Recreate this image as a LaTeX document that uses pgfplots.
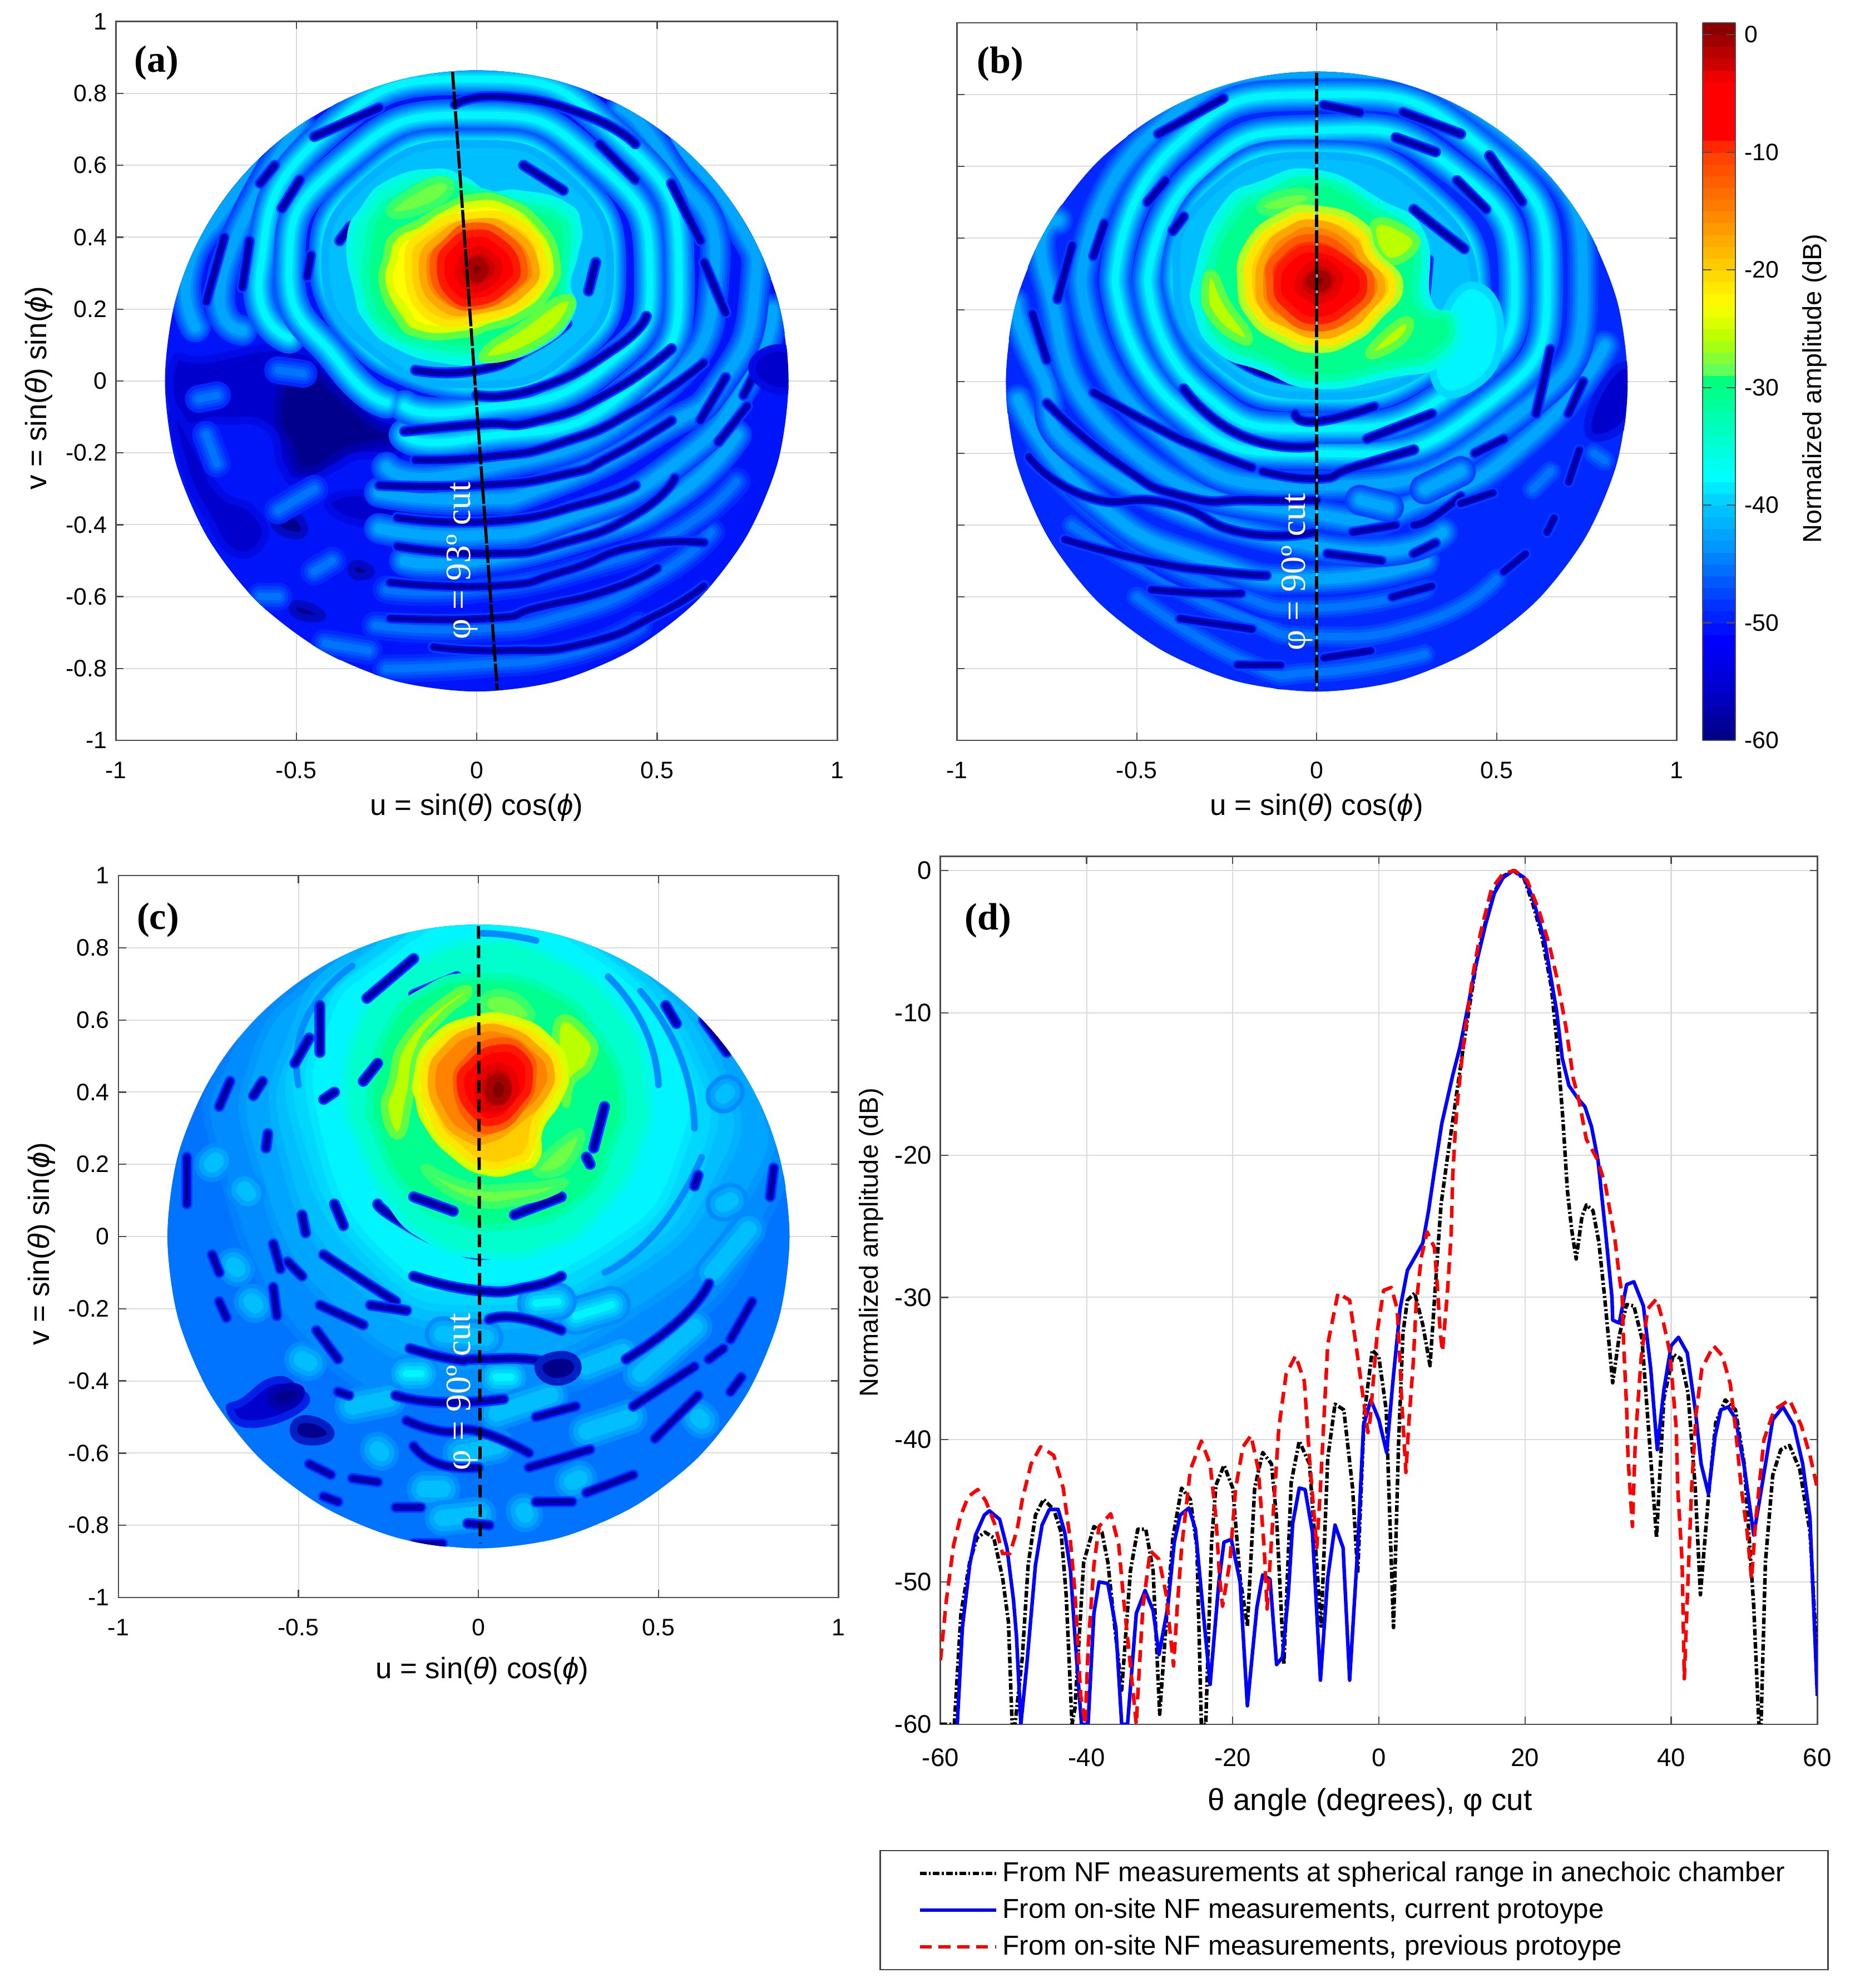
\documentclass[border=0pt]{standalone}
\usepackage{fontspec}
\setmainfont{Liberation Sans}
\newfontfamily\serif{Liberation Serif}
\usepackage{pgfplots}
\usepackage{pgfplotstable}
\pgfplotsset{compat=1.18}

% jet-like levels
\definecolor{c60}{RGB}{0,0,140}
\definecolor{c58}{RGB}{0,0,175}
\definecolor{c56}{RGB}{0,0,205}
\definecolor{c54}{RGB}{0,0,230}
\definecolor{c52}{RGB}{0,20,250}
\definecolor{c50}{RGB}{0,40,255}
\definecolor{c48}{RGB}{0,65,255}
\definecolor{c47}{RGB}{0,90,255}
\definecolor{c45}{RGB}{0,115,255}
\definecolor{c44}{RGB}{0,140,255}
\definecolor{c42}{RGB}{0,165,255}
\definecolor{c41}{RGB}{0,190,255}
\definecolor{c40}{RGB}{0,215,255}
\definecolor{c37}{RGB}{0,245,255}
\definecolor{c34}{RGB}{0,255,205}
\definecolor{c30}{RGB}{0,255,140}
\definecolor{c27}{RGB}{110,255,70}
\definecolor{c25}{RGB}{185,255,0}
\definecolor{c23}{RGB}{255,255,0}
\definecolor{c20}{RGB}{255,205,0}
\definecolor{c15}{RGB}{255,130,0}
\definecolor{c10}{RGB}{255,50,0}
\definecolor{c6}{RGB}{255,0,0}
\definecolor{c3}{RGB}{200,0,0}
\definecolor{c1}{RGB}{130,0,0}

\pgfplotstableread{
x y
0.864 0
0.835 0.224
0.748 0.432
0.611 0.611
0.432 0.748
0.224 0.835
0 0.864
-0.224 0.835
-0.432 0.748
-0.611 0.611
-0.748 0.432
-0.835 0.224
-0.864 0
-0.835 -0.224
-0.748 -0.432
-0.611 -0.611
-0.432 -0.748
-0.224 -0.835
0 -0.864
0.224 -0.835
0.432 -0.748
0.611 -0.611
0.748 -0.432
0.835 -0.224
}\disc

\pgfplotsset{
  lnb/.style={no markers,smooth,/tikz/tension=1,forget plot,line cap=round,line join=round},
  tick label style={font=\fontsize{9.4}{11}\selectfont,/pgf/number format/assume math mode=true},
  colormap={refjet}{rgb255(0mm)=(0,0,128); rgb255(4mm)=(0,0,200); rgb255(8.5mm)=(0,0,255);
    rgb255(12mm)=(0,60,255); rgb255(16.5mm)=(0,150,255); rgb255(20mm)=(0,200,255);
    rgb255(22.5mm)=(0,255,255); rgb255(31.4mm)=(0,255,110); rgb255(31.5mm)=(100,255,90);
    rgb255(34mm)=(180,255,0); rgb255(37mm)=(255,255,0); rgb255(40mm)=(255,210,0);
    rgb255(45mm)=(255,130,0); rgb255(50mm)=(255,60,0); rgb255(51.5mm)=(255,0,0);
    rgb255(56mm)=(255,0,0); rgb255(57.5mm)=(205,0,0); rgb255(61mm)=(128,0,0)},
  pan/.style={
    scale only axis,xmin=-1,xmax=1,ymin=-1,ymax=1,
    xtick={-1,-0.5,0,0.5,1},
    ytick={-1,-0.8,-0.6,-0.4,-0.2,0,0.2,0.4,0.6,0.8,1},
    xticklabel style={yshift=-5pt},
    grid=major,grid style={line width=0.45pt,black!14},
    tick align=inside,major tick length=3pt,
    axis line style={line width=0.6pt,black!70},
    tick style={line width=0.5pt,black!70},
    every axis x label/.style={at={(0.5,-0.0935)},anchor=center,font=\fontsize{11.6}{14}\selectfont},
    every axis y label/.style={at={(-0.107,0.49)},rotate=90,anchor=center,font=\fontsize{11.6}{14}\selectfont},
    xlabel={u = sin(\textit{θ}) cos(\textit{ϕ})},
    ylabel={v = sin(\textit{θ}) sin(\textit{ϕ})},
  },
}

% filled level with a softened rim, then the bands of the side lobes, then the nulls
\newcommand\lev[3]{\addplot[/tikz/smooth cycle,/tikz/tension=0.9,no markers,forget plot,draw=#1!50!#2,line width=3pt,fill=#1] coordinates {#3};}
\newcommand\bandC[1]{%
  \addplot[lnb,draw=c47,line width=12.5pt] coordinates {#1};
  \addplot[lnb,draw=c45,line width=10.5pt] coordinates {#1};
  \addplot[lnb,draw=c44,line width=9pt] coordinates {#1};
  \addplot[lnb,draw=c42,line width=7.5pt] coordinates {#1};
  \addplot[lnb,draw=c41,line width=6pt] coordinates {#1};
  \addplot[lnb,draw=c40,line width=4.5pt] coordinates {#1};
  \addplot[lnb,draw=c37,line width=2.8pt] coordinates {#1};}
\newcommand\bandM[1]{%
  \addplot[lnb,draw=c48,line width=12pt] coordinates {#1};
  \addplot[lnb,draw=c47,line width=10pt] coordinates {#1};
  \addplot[lnb,draw=c45,line width=8pt] coordinates {#1};
  \addplot[lnb,draw=c44,line width=6pt] coordinates {#1};
  \addplot[lnb,draw=c42,line width=4pt] coordinates {#1};}
\newcommand\bandL[1]{%
  \addplot[lnb,draw=c50,line width=11pt] coordinates {#1};
  \addplot[lnb,draw=c48,line width=8pt] coordinates {#1};
  \addplot[lnb,draw=c47,line width=5.5pt] coordinates {#1};
  \addplot[lnb,draw=c45,line width=3pt] coordinates {#1};}
% lobes on the brighter ground of (c)
\newcommand\lobeM[1]{%
  \addplot[lnb,draw=c44,line width=14pt] coordinates {#1};
  \addplot[lnb,draw=c42,line width=10.5pt] coordinates {#1};
  \addplot[lnb,draw=c41,line width=6.5pt] coordinates {#1};}
\newcommand\lobeB[1]{%
  \addplot[lnb,draw=c44,line width=15pt] coordinates {#1};
  \addplot[lnb,draw=c42,line width=12pt] coordinates {#1};
  \addplot[lnb,draw=c41,line width=9pt] coordinates {#1};
  \addplot[lnb,draw=c40,line width=6pt] coordinates {#1};
  \addplot[lnb,draw=c37,line width=3pt] coordinates {#1};}
\newcommand\thinl[1]{\addplot[lnb,draw=c44,line width=2.6pt] coordinates {#1};}
\newcommand\dk[1]{%
  \addplot[lnb,draw=c48,line width=4.4pt] coordinates {#1};
  \addplot[lnb,draw=c54,line width=3pt] coordinates {#1};
  \addplot[lnb,draw=c56,line width=2.2pt] coordinates {#1};
  \addplot[lnb,draw=c60,line width=1.1pt] coordinates {#1};}
\newcommand\discclip{\clip (axis cs:0,0) circle [radius=0.864];}

\begin{document}
\begin{tikzpicture}
\path[use as bounding box] (0pt,0pt) rectangle (731.5pt,784pt);

% ---------- (a)
\begin{axis}[pan,at={(45.7pt,492pt)},anchor=south west,width=284.6pt,height=283.5pt]
\addplot[/tikz/smooth cycle,no markers,forget plot,draw=none,fill=c52] table {\disc};
\begin{scope}
\discclip
\lev{c56}{c52}{(-0.84,0.05)(-0.75,0.06)(-0.52,0.09)(-0.39,0.01)(-0.30,-0.08)(-0.21,-0.13)(-0.21,-0.20)(-0.33,-0.21)(-0.39,-0.24)(-0.49,-0.28)(-0.54,-0.24)(-0.58,-0.13)(-0.71,-0.11)(-0.82,-0.11)}
\lev{c60}{c56}{(-0.5,0.05)(-0.4,-0.02)(-0.3,-0.11)(-0.23,-0.16)(-0.35,-0.19)(-0.47,-0.25)(-0.52,-0.18)(-0.55,-0.08)}
\lev{c56}{c52}{(-0.84,-0.08)(-0.77,-0.2)(-0.71,-0.31)(-0.62,-0.36)(-0.59,-0.44)(-0.67,-0.48)(-0.75,-0.37)(-0.81,-0.24)}
\lev{c56}{c52}{(-0.39,-0.32)(-0.27,-0.32)(-0.2,-0.37)(-0.27,-0.40)(-0.39,-0.37)}
\lev{c60}{c52}{(-0.53,-0.36)(-0.48,-0.40)(-0.5,-0.43)(-0.56,-0.40)}
\lev{c60}{c52}{(-0.34,-0.51)(-0.3,-0.52)(-0.3,-0.54)(-0.34,-0.54)}
\lev{c60}{c52}{(-0.5,-0.62)(-0.44,-0.64)(-0.44,-0.66)(-0.5,-0.65)}
\bandL{(-0.77,-0.05)(-0.72,-0.04)}
\bandL{(-0.75,-0.15)(-0.72,-0.23)}
\bandL{(-0.45,-0.30)(-0.55,-0.36)}
\bandL{(-0.55,0.03)(-0.48,0.02)}
\bandL{(-0.6,-0.6)(-0.55,-0.6)}
\bandL{(-0.45,-0.53)(-0.4,-0.5)}
\bandL{(-0.42,-0.73)(-0.3,-0.75)}
% rings, outermost first
\bandL{(-0.25,-0.80)(-0.01,-0.79)(0.25,-0.76)(0.45,-0.68)}
\bandL{(-0.28,-0.68)(-0.01,-0.69)(0.25,-0.65)(0.5,-0.54)(0.65,-0.42)}
\bandL{(-0.25,-0.58)(-0.01,-0.58)(0.3,-0.52)(0.55,-0.42)(0.72,-0.28)}
\bandM{(-0.2,-0.5)(-0.01,-0.50)(0.3,-0.43)(0.55,-0.32)(0.72,-0.15)}
\bandM{(-0.27,-0.41)(-0.01,-0.43)(0.25,-0.38)(0.55,-0.23)(0.75,0.0)(0.82,0.2)}
\bandM{(-0.78,0.15)(-0.80,0.31)(-0.70,0.48)(-0.58,0.62)}
\bandM{(0.55,0.66)(0.72,0.45)(0.77,0.25)(0.68,0.0)(0.5,-0.14)(0.2,-0.29)(-0.01,-0.33)(-0.27,-0.31)}
\bandM{(-0.65,0.14)(-0.70,0.31)(-0.49,0.72)}
\bandM{(0.40,0.76)(0.52,0.62)(0.66,0.31)(0.47,-0.06)(-0.01,-0.25)(-0.25,-0.24)}
\bandC{(-0.52,0.12)(-0.60,0.31)(-0.43,0.68)(-0.01,0.84)(0.39,0.68)(0.56,0.31)(0.40,-0.04)(-0.01,-0.16)(-0.2,-0.15)}
\bandC{(-0.25,-0.06)(-0.38,0.05)(-0.52,0.31)(-0.37,0.61)(-0.01,0.74)(0.33,0.61)(0.48,0.31)(0.34,0.03)(-0.01,-0.08)(-0.2,-0.07)}
\bandC{(-0.27,0.07)(-0.42,0.31)(-0.29,0.57)(-0.01,0.66)(0.25,0.57)(0.37,0.31)(0.25,0.07)(-0.01,-0.01)(-0.27,0.07)}
\lev{c41}{c42}{(-0.27,0.07)(-0.42,0.31)(-0.29,0.57)(-0.01,0.66)(0.25,0.57)(0.37,0.31)(0.25,0.07)(-0.01,-0.01)}
% nulls
\dk{(-0.06,0.77)(0.08,0.79)(0.30,0.74)(0.44,0.66)}
\dk{(0.13,0.6)(0.24,0.53)}
\dk{(0.34,0.66)(0.44,0.56)}
\dk{(0.54,0.55)(0.62,0.39)}
\dk{(0.63,0.33)(0.69,0.19)}
\dk{(-0.17,0.03)(0,0.03)(0.15,0.09)(0.25,0.16)}
\dk{(0,-0.04)(0.17,-0.02)(0.38,0.09)(0.47,0.18)}
\dk{(-0.2,-0.14)(0.01,-0.12)(0.17,-0.11)(0.37,-0.03)(0.54,0.09)}
\dk{(-0.17,-0.22)(0.04,-0.21)(0.24,-0.17)(0.44,-0.08)(0.63,0.05)}
\dk{(-0.27,-0.29)(0.01,-0.29)(0.24,-0.26)(0.37,-0.21)(0.54,-0.11)}
\dk{(-0.22,-0.38)(0.05,-0.39)(0.3,-0.34)(0.44,-0.29)}
\dk{(-0.22,-0.46)(0.04,-0.48)(0.24,-0.45)(0.44,-0.37)(0.55,-0.27)}
\dk{(-0.24,-0.56)(0.05,-0.57)(0.24,-0.53)(0.44,-0.46)(0.63,-0.45)}
\dk{(-0.24,-0.66)(0.04,-0.66)(0.17,-0.63)(0.37,-0.58)(0.5,-0.52)}
\dk{(-0.12,-0.74)(0.08,-0.75)(0.3,-0.73)(0.5,-0.65)(0.63,-0.57)}
\dk{(0.62,-0.11)(0.69,0.01)}
\dk{(0.74,-0.04)(0.78,0.04)}
\dk{(0.67,-0.17)(0.75,-0.07)}
\lev{c56}{c52}{(0.78,0.07)(0.87,0.08)(0.87,-0.02)(0.78,0.0)}
\dk{(-0.60,0.55)(-0.56,0.6)}
\dk{(-0.7,0.4)(-0.75,0.22)}
\dk{(-0.65,0.26)(-0.63,0.39)}
\dk{(-0.54,0.48)(-0.49,0.56)}
\dk{(-0.46,0.35)(-0.47,0.29)}
\dk{(-0.38,0.39)(-0.35,0.43)}
\dk{(-0.45,0.68)(-0.27,0.76)}
\dk{(0.33,0.33)(0.31,0.25)}
% main lobe
\lev{c34}{c37}{(-0.35,0.39)(-0.31,0.48)(-0.24,0.55)(-0.12,0.58)(-0.04,0.56)(0.03,0.52)(0.12,0.52)(0.24,0.49)(0.28,0.43)(0.27,0.35)(0.25,0.27)(0.26,0.19)(0.17,0.10)(0.03,0.06)(-0.09,0.06)(-0.22,0.10)(-0.30,0.17)(-0.33,0.25)}
\lev{c30}{c34}{(-0.3,0.38)(-0.27,0.47)(-0.2,0.52)(-0.12,0.55)(0,0.53)(0.12,0.49)(0.22,0.46)(0.25,0.4)(0.24,0.3)(0.22,0.2)(0.12,0.11)(0,0.09)(-0.12,0.1)(-0.24,0.14)(-0.3,0.24)}
\lev{c27}{c30}{(-0.24,0.47)(-0.19,0.52)(-0.1,0.56)(-0.08,0.52)(-0.17,0.47)}
\lev{c25}{c30}{(0.03,0.09)(0.12,0.15)(0.24,0.23)(0.25,0.18)(0.16,0.1)(0.04,0.06)}
\lev{c25}{c30}{(-0.25,0.34)(-0.23,0.40)(-0.16,0.44)(-0.09,0.48)(-0.01,0.51)(0.08,0.5)(0.17,0.44)(0.22,0.34)(0.2,0.25)(0.12,0.18)(0.03,0.15)(-0.04,0.13)(-0.16,0.13)(-0.22,0.18)(-0.26,0.27)}
\lev{c23}{c25}{(-0.23,0.34)(-0.21,0.39)(-0.15,0.42)(-0.09,0.46)(-0.01,0.49)(0.08,0.48)(0.15,0.42)(0.2,0.34)(0.18,0.26)(0.11,0.2)(0.03,0.17)(-0.04,0.15)(-0.15,0.15)(-0.2,0.2)(-0.24,0.27)}
\lev{c20}{c23}{(-0.19,0.33)(-0.13,0.42)(-0.01,0.46)(0.11,0.44)(0.18,0.34)(0.15,0.24)(0.03,0.18)(-0.13,0.18)}
\lev{c15}{c20}{(-0.15,0.32)(-0.10,0.40)(-0.01,0.44)(0.09,0.42)(0.16,0.33)(0.13,0.25)(0.02,0.20)(-0.10,0.21)}
\lev{c10}{c15}{(-0.12,0.32)(-0.08,0.39)(-0.01,0.43)(0.08,0.40)(0.13,0.32)(0.10,0.26)(0.01,0.21)(-0.08,0.23)}
\lev{c6}{c10}{(-0.10,0.32)(-0.07,0.38)(-0.01,0.41)(0.06,0.39)(0.11,0.32)(0.08,0.26)(0.0,0.22)(-0.07,0.24)}
\lev{c3}{c6}{(-0.05,0.31)(-0.01,0.36)(0.04,0.35)(0.06,0.31)(0.03,0.27)(-0.02,0.26)}
\lev{c1}{c3}{(-0.02,0.31)(0,0.335)(0.02,0.32)(0.02,0.30)(0,0.285)}
\end{scope}
\addplot[no markers,forget plot,black,line width=1.2pt,dash pattern=on 7pt off 0.8pt] coordinates {(-0.067,0.86)(0.057,-0.86)};
\node[rotate=90,white,font=\serif\fontsize{14}{16}\selectfont] at (axis cs:-0.04,-0.5) {φ = 93º cut};
\node[font=\serif\bfseries\fontsize{15}{17}\selectfont] at (axis cs:-0.887,0.885) {(a)};
\end{axis}

% ---------- (b)
\begin{axis}[pan,at={(377.4pt,492pt)},anchor=south west,width=283.8pt,height=283pt,
  yticklabels={},ylabel={},
  point meta min=-60,point meta max=1,colormap name=refjet,
  colorbar,colorbar sampled,
  colorbar style={samples=62,at={(1.036,0)},anchor=south west,width=13pt,
    ytick={0,-10,-20,-30,-40,-50,-60},yticklabel pos=right,
    tick align=inside,major tick length=3.5pt,
    axis line style={line width=0.4pt,black!70},
    every axis y label/.style={at={(3.4,0.49)},rotate=90,anchor=center,font=\fontsize{10.3}{12}\selectfont},
    ylabel={Normalized amplitude (dB)}}]
\addplot[/tikz/smooth cycle,no markers,forget plot,draw=none,fill=c50] table {\disc};
\begin{scope}
\discclip
\bandL{(-0.5,-0.6)(-0.2,-0.78)(0,-0.81)(0.3,-0.76)}
\bandL{(-0.68,-0.4)(-0.45,-0.54)(-0.2,-0.66)(0,-0.71)(0.3,-0.67)(0.5,-0.55)}
\bandL{(-0.78,-0.2)(-0.55,-0.42)(-0.25,-0.58)(0,-0.63)(0.3,-0.58)}
\bandM{(-0.83,-0.05)(-0.62,-0.33)(-0.3,-0.5)(0,-0.55)(0.3,-0.5)}
\bandM{(-0.84,0.22)(-0.77,0.03)(-0.6,-0.24)(0,-0.46)(0.35,-0.42)}
\bandM{(-0.72,0.45)(-0.75,0.28)(-0.53,-0.18)(0,-0.37)(0.3,-0.33)(0.6,-0.15)(0.8,0.1)}
\bandM{(-0.655,0.28)(-0.46,0.69)(0,0.86)(0.52,0.70)(0.74,0.28)(0.52,-0.12)(0,-0.29)(-0.46,-0.12)(-0.655,0.28)}
\bandM{(0.12,-0.33)(0.2,-0.35)}
\bandM{(0.3,-0.3)(0.4,-0.25)}
\bandL{(0.77,-0.2)(0.8,-0.22)}
\bandL{(0.6,-0.3)(0.65,-0.25)}
\bandC{(-0.56,0.28)(-0.40,0.65)(0,0.80)(0.45,0.66)(0.64,0.28)(0.45,-0.08)(0,-0.20)(-0.39,-0.07)(-0.56,0.28)}
\bandC{(-0.47,0.28)(-0.33,0.58)(0,0.70)(0.37,0.60)(0.55,0.28)(0.38,-0.02)(0,-0.13)(-0.33,-0.02)(-0.47,0.28)}
\bandC{(-0.39,0.28)(-0.29,0.53)(0,0.63)(0.30,0.52)(0.44,0.25)(0.31,0.04)(0,-0.04)(-0.27,0.05)(-0.39,0.28)}
\lev{c41}{c42}{(-0.39,0.28)(-0.29,0.53)(0,0.63)(0.30,0.52)(0.44,0.25)(0.31,0.04)(0,-0.04)(-0.27,0.05)}
\lev{c37}{c41}{(0.36,0.2)(0.46,0.26)(0.51,0.12)(0.44,-0.01)(0.33,0.0)}
\dk{(0.02,0.77)(0.12,0.75)}
\dk{(0.24,0.75)(0.40,0.69)}
\dk{(0.22,0.68)(0.33,0.64)}
\dk{(0.48,0.63)(0.57,0.5)}
\dk{(0.39,0.56)(0.47,0.48)}
\dk{(0.27,0.48)(0.32,0.44)(0.41,0.37)}
\dk{(0.31,0.34)(0.3,0.23)}
\dk{(-0.44,0.69)(-0.26,0.79)}
\dk{(-0.47,0.5)(-0.42,0.56)}
\dk{(-0.40,0.42)(-0.37,0.46)}
\dk{(-0.31,0.35)(-0.28,0.42)}
\dk{(-0.62,0.35)(-0.59,0.44)}
\dk{(-0.72,0.23)(-0.68,0.38)}
\dk{(-0.79,0.19)(-0.75,0.06)}
\dk{(-0.26,0.09)(-0.14,0.02)(0,0)}
\dk{(-0.06,-0.09)(0,-0.11)(0.16,-0.07)}
\dk{(-0.37,-0.02)(-0.21,-0.15)(-0.01,-0.18)}
\dk{(0.14,-0.16)(0.32,-0.09)}
\dk{(-0.62,-0.03)(-0.44,-0.13)(-0.31,-0.19)(-0.18,-0.24)}
\dk{(-0.15,-0.25)(0,-0.27)(0.10,-0.24)(0.27,-0.19)}
\dk{(-0.75,-0.06)(-0.55,-0.23)(-0.37,-0.32)(-0.18,-0.33)(0,-0.33)}
\dk{(-0.8,-0.21)(-0.64,-0.32)(-0.41,-0.34)(-0.21,-0.42)(-0.01,-0.42)}
\dk{(-0.7,-0.44)(-0.47,-0.5)(-0.27,-0.53)(-0.14,-0.54)}
\dk{(-0.46,-0.58)(-0.31,-0.59)(-0.21,-0.59)}
\dk{(-0.38,-0.66)(-0.18,-0.69)}
\dk{(-0.22,-0.79)(-0.1,-0.79)}
\dk{(0.02,-0.77)(0.15,-0.75)}
\dk{(0.03,-0.48)(0.18,-0.5)}
\dk{(0.1,-0.42)(0.22,-0.40)}
\dk{(0.27,-0.48)(0.33,-0.45)}
\dk{(0.27,-0.4)(0.32,-0.38)(0.4,-0.32)}
\dk{(0.21,-0.6)(0.32,-0.57)}
\dk{(0.44,-0.2)(0.52,-0.16)}
\dk{(0.4,-0.34)(0.49,-0.31)}
\dk{(0.61,-0.09)(0.65,0.09)}
\dk{(0.7,-0.09)(0.74,0)}
\lev{c56}{c50}{(0.87,0.04)(0.87,-0.1)(0.76,-0.15)(0.79,-0.02)}
\dk{(0.66,-0.38)(0.64,-0.42)}
\dk{(0.52,-0.53)(0.58,-0.48)}
\dk{(0.7,-0.28)(0.73,-0.19)}
% main lobe
\lev{c34}{c37}{(-0.33,0.19)(-0.33,0.30)(-0.26,0.48)(-0.15,0.55)(0,0.58)(0.17,0.5)(0.29,0.41)(0.31,0.22)(0.39,0.17)(0.35,0.06)(0.2,0.02)(0,-0.01)(-0.15,0.04)(-0.27,0.09)}
\lev{c30}{c34}{(-0.30,0.19)(-0.30,0.30)(-0.23,0.46)(-0.14,0.52)(0,0.56)(0.16,0.48)(0.27,0.39)(0.28,0.22)(0.37,0.17)(0.33,0.08)(0.19,0.04)(0,0.01)(-0.14,0.06)(-0.25,0.11)}
\lev{c25}{c30}{(-0.29,0.3)(-0.25,0.22)(-0.19,0.13)(-0.22,0.12)(-0.29,0.18)(-0.31,0.25)}
\lev{c25}{c30}{(0.16,0.44)(0.25,0.42)(0.27,0.37)(0.19,0.34)}
\lev{c25}{c30}{(0.15,0.09)(0.24,0.17)(0.25,0.13)(0.18,0.08)}
\lev{c27}{c30}{(-0.15,0.5)(-0.05,0.53)(-0.02,0.5)(-0.12,0.47)}
\lev{c23}{c27}{(-0.21,0.27)(-0.19,0.38)(-0.10,0.46)(0,0.48)(0.12,0.44)(0.16,0.36)(0.23,0.27)(0.17,0.18)(0.10,0.12)(0,0.09)(-0.10,0.12)(-0.18,0.18)}
\lev{c20}{c23}{(-0.19,0.27)(-0.17,0.37)(-0.09,0.44)(0,0.46)(0.11,0.42)(0.15,0.35)(0.21,0.27)(0.16,0.19)(0.09,0.13)(0,0.11)(-0.09,0.14)(-0.16,0.19)}
\lev{c15}{c20}{(-0.16,0.27)(-0.14,0.36)(-0.08,0.42)(0,0.44)(0.09,0.40)(0.13,0.34)(0.18,0.27)(0.14,0.20)(0.08,0.15)(0,0.13)(-0.08,0.16)(-0.14,0.20)}
\lev{c10}{c15}{(-0.13,0.27)(-0.11,0.35)(0,0.40)(0.11,0.33)(0.15,0.27)(0.11,0.20)(0,0.15)(-0.10,0.20)}
\lev{c6}{c10}{(-0.11,0.27)(-0.08,0.34)(0,0.37)(0.09,0.33)(0.13,0.27)(0.09,0.21)(0,0.17)(-0.08,0.21)}
\lev{c3}{c6}{(-0.05,0.28)(0,0.33)(0.05,0.31)(0.06,0.27)(0.02,0.23)(-0.03,0.24)}
\lev{c1}{c3}{(-0.02,0.28)(0.01,0.30)(0.03,0.28)(0.01,0.26)}
\end{scope}
\addplot[no markers,forget plot,c37,line width=0.8pt] coordinates {(0,0.86)(0,-0.86)};
\addplot[no markers,forget plot,black,line width=1.3pt,dash pattern=on 5pt off 1.2pt] coordinates {(0,0.86)(0,-0.86)};
\node[rotate=90,white,font=\serif\fontsize{14}{16}\selectfont] at (axis cs:-0.055,-0.53) {φ = 90º cut};
\node[font=\serif\bfseries\fontsize{15}{17}\selectfont] at (axis cs:-0.88,0.885) {(b)};
\end{axis}

% ---------- (c)
\begin{axis}[pan,at={(46.7pt,154pt)},anchor=south west,width=284pt,height=284.7pt,
  every axis x label/.style={at={(0.505,-0.1018)},anchor=center,font=\fontsize{11.6}{14}\selectfont}]
\addplot[/tikz/smooth cycle,no markers,forget plot,draw=none,fill=c45] table {\disc};
\begin{scope}
\discclip
\lev{c44}{c45}{(-0.72,0.2)(-0.7,0.5)(-0.5,0.72)(-0.2,0.88)(0.5,0.76)(0.84,0.42)(0.8,0.05)(0.5,-0.3)(0,-0.45)(-0.45,-0.32)}
\lev{c42}{c44}{(-0.62,0.2)(-0.62,0.5)(-0.45,0.72)(-0.2,0.88)(0.5,0.72)(0.78,0.4)(0.74,0.1)(0.45,-0.2)(0,-0.36)(-0.4,-0.2)}
\lev{c41}{c42}{(-0.55,0.25)(-0.52,0.55)(-0.35,0.78)(0,0.9)(0.4,0.78)(0.68,0.45)(0.66,0.15)(0.4,-0.12)(0,-0.25)(-0.35,-0.12)}
\lev{c40}{c41}{(-0.5,0.28)(-0.48,0.56)(-0.3,0.78)(0,0.9)(0.35,0.8)(0.6,0.5)(0.62,0.2)(0.38,-0.08)(0,-0.2)(-0.3,-0.08)}
\lev{c37}{c40}{(-0.45,0.3)(-0.43,0.58)(-0.28,0.76)(0,0.89)(0.3,0.8)(0.55,0.52)(0.56,0.22)(0.36,-0.03)(0,-0.14)(-0.28,-0.04)}
% ring traces in the cyan
\thinl{(0.45,0.68)(0.56,0.5)(0.6,0.3)}
\thinl{(-0.5,0.42)(-0.48,0.6)(-0.35,0.75)}
\thinl{(0.62,0.22)(0.5,0.02)(0.35,-0.1)}
\thinl{(0.36,0.72)(0.46,0.58)(0.5,0.42)}
% lobes
\lobeB{(-0.2,-0.38)(-0.16,-0.38)}
\lobeB{(0.05,-0.39)(0.09,-0.39)}
\lobeM{(0.3,-0.36)(0.4,-0.32)}
\lobeB{(0.27,-0.22)(0.37,-0.19)}
\lobeB{(0.16,-0.185)(0.22,-0.18)}
\lobeM{(-0.63,-0.18)(-0.62,-0.19)}
\lobeM{(-0.74,0.2)(-0.73,0.21)}
\lobeM{(-0.65,0.13)(-0.64,0.12)}
\lobeM{(-0.68,-0.08)(-0.67,-0.09)}
\lobeM{(-0.49,-0.34)(-0.47,-0.35)}
\lobeM{(-0.28,-0.59)(-0.27,-0.6)}
\lobeM{(-0.15,-0.7)(-0.1,-0.7)}
\lobeM{(0.125,-0.76)(0.13,-0.77)}
\lobeM{(0.26,-0.68)(0.28,-0.67)}
\lobeM{(0.61,-0.5)(0.62,-0.51)}
\lobeM{(0.3,-0.54)(0.42,-0.5)}
\lobeM{(0.68,0.09)(0.7,0.1)}
\lobeM{(0.68,0.39)(0.69,0.4)}
\lobeM{(-0.05,-0.6)(0.05,-0.58)}
\lobeM{(-0.1,-0.78)(0,-0.77)}
\lobeM{(-0.35,-0.47)(-0.25,-0.45)}
\lobeM{(0.05,-0.49)(0.2,-0.44)}
\lobeM{(0.45,-0.38)(0.6,-0.25)}
\lobeM{(0.65,-0.1)(0.75,0.02)}
\lobeM{(-0.1,-0.27)(0.02,-0.28)}
% nulls
\dk{(-0.72,0.36)(-0.69,0.43)}
\dk{(-0.6,0.43)(-0.625,0.39)}
\dk{(-0.585,0.285)(-0.59,0.245)}
\dk{(-0.74,-0.05)(-0.72,-0.1)}
\dk{(-0.72,-0.18)(-0.70,-0.225)}
\dk{(-0.57,-0.14)(-0.56,-0.22)}
\dk{(-0.49,0.06)(-0.48,0.01)}
\dk{(-0.53,-0.07)(-0.49,-0.11)}
\dk{(-0.57,-0.02)(-0.55,-0.09)}
\dk{(-0.40,0.09)(-0.375,0.03)}
\dk{(-0.45,-0.26)(-0.39,-0.34)}
\dk{(-0.28,0.09)(-0.23,0.05)(-0.1,-0.02)(0,-0.05)}
\dk{(0,-0.05)(0.14,-0.03)(0.27,0.02)(0.36,0.11)(0.43,0.21)}
\dk{(-0.18,-0.11)(0,-0.15)(0.14,-0.14)(0.23,-0.11)}
\dk{(-0.43,-0.05)(-0.34,-0.11)(-0.23,-0.18)}
\dk{(0.03,-0.23)(0.11,-0.225)(0.23,-0.26)}
\dk{(-0.3,-0.19)(-0.2,-0.205)}
\dk{(-0.44,-0.19)(-0.32,-0.245)}
\dk{(-0.19,-0.31)(-0.07,-0.34)(0,-0.34)(0.14,-0.34)(0.22,-0.36)}
\dk{(-0.23,-0.44)(-0.1,-0.46)(0.07,-0.45)}
\lev{c60}{c48}{(0.17,-0.35)(0.25,-0.33)(0.27,-0.38)(0.2,-0.4)}
\dk{(0.41,-0.34)(0.56,-0.23)(0.64,-0.13)}
\dk{(0.43,-0.47)(0.6,-0.36)}
\dk{(0.49,-0.56)(0.61,-0.44)}
\dk{(0.16,-0.5)(0.27,-0.47)}
\dk{(-0.2,-0.51)(-0.1,-0.54)(0,-0.54)(0.14,-0.6)}
\dk{(-0.18,-0.58)(-0.11,-0.63)(0,-0.64)}
\dk{(0.14,-0.64)(0.31,-0.59)}
\dk{(0.3,-0.71)(0.43,-0.66)}
\dk{(0.16,-0.735)(0.26,-0.735)}
\dk{(-0.03,-0.795)(0.03,-0.8)}
\dk{(-0.23,-0.75)(-0.16,-0.75)}
\dk{(-0.18,-0.85)(-0.1,-0.85)}
\dk{(-0.35,-0.67)(-0.28,-0.68)}
\lev{c60}{c48}{(-0.5,-0.51)(-0.43,-0.52)(-0.42,-0.56)(-0.5,-0.56)}
\dk{(-0.47,-0.63)(-0.41,-0.66)}
\dk{(-0.43,-0.72)(-0.39,-0.735)}
\dk{(-0.39,-0.43)(-0.36,-0.44)}
\lev{c56}{c48}{(-0.69,-0.48)(-0.625,-0.52)(-0.49,-0.47)(-0.51,-0.42)(-0.57,-0.40)(-0.65,-0.455)}
\lev{c60}{c56}{(-0.57,-0.43)(-0.5,-0.42)(-0.51,-0.46)(-0.56,-0.47)}
\dk{(0.7,-0.43)(0.73,-0.39)}
\dk{(0.68,-0.31)(0.64,-0.34)}
\dk{(0.76,-0.18)(0.7,-0.285)}
\dk{(0.61,0.17)(0.6,0.14)}
\dk{(0.82,0.19)(0.81,0.11)}
\dk{(0.625,0.6)(0.69,0.51)}
\dk{(0.52,0.64)(0.55,0.59)}
\dk{(-0.81,0.22)(-0.81,0.09)}
\dk{(-0.44,0.51)(-0.44,0.64)}
\dk{(-0.51,0.48)(-0.47,0.55)}
% main lobe
\lev{c34}{c37}{(-0.37,0.4)(-0.32,0.62)(-0.2,0.74)(0,0.82)(0.2,0.78)(0.4,0.62)(0.47,0.42)(0.45,0.25)(0.35,0.08)(0.2,-0.03)(0,-0.05)(-0.15,0)(-0.25,0.1)(-0.33,0.25)}
\thinl{(0.01,0.84)(0.08,0.835)(0.16,0.82)}
\dk{(-0.31,0.66)(-0.18,0.77)}
\dk{(-0.18,0.67)(-0.06,0.72)}
\lev{c30}{c34}{(-0.3,0.4)(-0.25,0.58)(-0.15,0.68)(0,0.72)(0.2,0.68)(0.33,0.56)(0.4,0.4)(0.37,0.25)(0.28,0.1)(0.1,0.03)(-0.08,0.05)(-0.2,0.13)(-0.28,0.28)}
\dk{(0.3,0.22)(0.31,0.2)}
\dk{(0.35,0.36)(0.32,0.245)}
\dk{(-0.18,0.11)(-0.07,0.07)}
\dk{(0.1,0.06)(0.23,0.11)}
\dk{(-0.28,0.48)(-0.32,0.43)}
\dk{(-0.40,0.40)(-0.43,0.38)}
\lev{c25}{c30}{(-0.24,0.43)(-0.2,0.55)(-0.07,0.67)(-0.03,0.67)(-0.1,0.61)(-0.165,0.52)(-0.19,0.39)(-0.22,0.28)(-0.26,0.35)}
\lev{c25}{c30}{(0.22,0.59)(0.31,0.55)(0.31,0.48)(0.26,0.43)(0.24,0.38)}
\lev{c27}{c30}{(0.03,0.67)(0.11,0.66)(0.14,0.60)(0.03,0.62)}
\lev{c27}{c30}{(-0.15,0.19)(-0.02,0.14)(0.13,0.14)(0.24,0.15)(0.13,0.10)(-0.03,0.1)}
\lev{c27}{c30}{(0.16,0.19)(0.28,0.29)(0.24,0.19)}
\lev{c23}{c25}{(-0.17,0.44)(-0.13,0.54)(-0.02,0.60)(0.10,0.60)(0.20,0.54)(0.24,0.46)(0.22,0.38)(0.17,0.30)(0.16,0.22)(0.11,0.19)(0.02,0.18)(-0.07,0.23)(-0.14,0.31)(-0.165,0.38)}
\lev{c20}{c23}{(-0.15,0.44)(-0.11,0.53)(-0.02,0.58)(0.09,0.58)(0.18,0.53)(0.22,0.46)(0.2,0.39)(0.16,0.32)(0.14,0.24)(0.1,0.21)(0.02,0.2)(-0.06,0.25)(-0.12,0.32)}
\lev{c15}{c20}{(-0.13,0.44)(-0.09,0.52)(-0.01,0.57)(0.08,0.57)(0.16,0.52)(0.2,0.46)(0.18,0.39)(0.12,0.33)(0.03,0.27)(-0.04,0.28)(-0.1,0.34)}
\lev{c10}{c15}{(-0.06,0.42)(-0.03,0.49)(0.05,0.54)(0.13,0.51)(0.15,0.44)(0.12,0.36)(0.05,0.3)(-0.02,0.32)}
\lev{c6}{c10}{(-0.05,0.42)(-0.02,0.48)(0.05,0.52)(0.12,0.5)(0.14,0.43)(0.11,0.37)(0.05,0.32)(-0.01,0.34)}
\lev{c3}{c6}{(0,0.42)(0.02,0.46)(0.07,0.47)(0.1,0.43)(0.09,0.38)(0.04,0.35)(0.01,0.37)}
\lev{c1}{c3}{(0.03,0.41)(0.05,0.44)(0.08,0.42)(0.07,0.38)(0.04,0.38)}
\end{scope}
\addplot[no markers,forget plot,black,line width=1.3pt,dash pattern=on 5pt off 2.6pt] coordinates {(0,0.86)(0.005,-0.85)};
\node[rotate=90,white,font=\serif\fontsize{14}{16}\selectfont] at (axis cs:-0.045,-0.43) {φ = 90º cut};
\node[font=\serif\bfseries\fontsize{15}{17}\selectfont] at (axis cs:-0.89,0.877) {(c)};
\end{axis}

% ---------- (d)
\begin{axis}[scale only axis,at={(370.9pt,104pt)},anchor=south west,width=345.8pt,height=342.3pt,
  xmin=-60,xmax=60,ymin=-60,ymax=1,
  xtick={-60,-40,-20,0,20,40,60},ytick={0,-10,-20,-30,-40,-50,-60},
  tick label style={font=\fontsize{10}{12}\selectfont},
  xticklabel style={yshift=-6pt},
  grid=major,grid style={line width=0.45pt,black!14},
  tick align=inside,major tick length=3pt,
  axis line style={line width=0.6pt,black!70},
  tick style={line width=0.5pt,black!70},
  every axis x label/.style={at={(0.49,-0.09)},anchor=center,font=\fontsize{12}{14}\selectfont},
  every axis y label/.style={at={(-0.079,0.555)},rotate=90,anchor=center,font=\fontsize{10.3}{12}\selectfont},
  xlabel={θ angle (degrees), φ cut},
  ylabel={Normalized amplitude (dB)},
  legend cell align=left,
  legend image code/.code={\draw[#1] (0pt,0pt) -- (30pt,0pt);},
  legend style={at={(-0.0698,-0.1446)},anchor=north west,draw=black!75,line width=0.6pt,
    font=\fontsize{10.8}{12}\selectfont,row sep=1.2pt,inner xsep=15pt,inner ysep=2.3pt,
    /tikz/every even column/.append style={column sep=0pt}},
]
\addplot[no markers,black,line width=1.4pt,line join=round,dash pattern=on 2.6pt off 0.9pt on 0.8pt off 0.9pt] coordinates {
(-60,-60)(-59.9,-60)(-58.1,-60)(-57.2,-52.2)(-56,-48.6)(-55,-46.9)(-53.9,-46.5)(-52.7,-46.9)(-51.5,-49.7)(-50.7,-52.8)(-50.2,-60)
(-49.8,-60)(-48.8,-55.3)(-48,-48.8)(-47,-45.3)(-45.9,-44.2)(-44.5,-44.9)(-43.5,-46.5)(-42.8,-50.9)(-42,-60)
(-41.6,-58.9)(-40.4,-48.6)(-39,-46.1)(-37.9,-46.5)(-37.1,-48.6)(-36.1,-53.4)(-35.2,-57.6)(-34,-49.2)(-33,-46.3)(-31.9,-46.3)(-30.9,-49.2)(-30,-59.3)
(-29.1,-52.8)(-28.2,-46.9)(-27,-43.4)(-25.8,-44.2)(-24.9,-47.6)(-24.3,-60)(-23.7,-60)(-22.9,-47.2)(-22.3,-43.2)(-21.2,-41.8)(-20,-43.4)(-19,-49.7)(-18,-53.1)
(-17,-43.4)(-15.9,-40.9)(-14.7,-41.7)(-14,-45.5)(-13,-55.8)(-12,-43)(-10.9,-40.1)(-9.5,-41.7)(-7.9,-53.1)(-7,-41.3)(-6,-37.5)(-4.8,-37.9)(-3.6,-43.4)(-2.9,-49.4)
(-2,-38.2)(-0.9,-33.7)(0,-34.2)(1,-37.9)(2,-53.2)(2.7,-40.2)(3.3,-32.5)(3.9,-30.2)(4.9,-29.7)(6,-31.9)(7,-34.8)(7.8,-28.7)
(8.5,-23.5)(9.4,-20.1)(10.5,-16.2)(11.5,-12.6)(12.5,-9.2)(13.5,-6)(14.6,-3.6)(15.8,-1.5)(17,-0.4)(18.4,0)(19.9,-0.6)(21.1,-2.4)(22.3,-4.6)(23.6,-8.2)(24.4,-12.2)(25.2,-17.6)(25.8,-22.5)(26.4,-25.3)(27,-27.3)
(27.8,-24.3)(28.4,-23.5)(29.3,-23.9)(30.1,-26.1)(30.9,-30)(32,-36)(32.9,-32.7)(33.9,-30.5)(34.9,-30.6)(36,-32.9)(36.9,-39.2)(38,-46.9)(39,-37.1)(40.3,-34)(41.3,-34.3)(42.3,-36.7)(43.3,-43.4)(44,-50.9)
(45.1,-44)(46.1,-38.8)(47.4,-37.2)(48.8,-37.9)(50,-41.7)(51.3,-51.7)(52,-60)(52.3,-60)(52.9,-48.6)(53.9,-42.5)(55,-40.7)(56.2,-40.4)(57.6,-42.1)(59,-46.5)(60,-55.7)};
\addlegendentry{From NF measurements at spherical range in anechoic chamber}
\addplot[no markers,blue,line width=1.4pt,line join=round] coordinates {
(-57.7,-60)(-57,-53.2)(-56,-48.8)(-55.2,-46.7)(-54,-45.3)(-53.3,-45)(-51.9,-45.6)(-50.9,-47.6)(-50,-51.3)(-49.6,-53.8)(-49,-60)(-48.2,-55.9)(-47,-48.8)(-46.1,-46)(-45.1,-44.9)(-43.9,-44.9)(-43,-46.5)(-42.2,-49.2)(-41.6,-53.8)(-40.7,-60)
(-39.8,-60)(-39,-52.2)(-38.3,-50)(-37.1,-50.1)(-36,-53.2)(-35.2,-60)(-34.4,-60)(-33.2,-52.2)(-32,-50.6)(-30.9,-52)(-30.1,-55.1)(-28.9,-51.8)(-28,-47.2)(-27.2,-45.3)(-26,-44.8)(-25.1,-46.3)(-24.1,-51.8)(-23.1,-57.2)
(-21.9,-50)(-21.2,-47.2)(-20.2,-47)(-19,-50)(-18,-58.7)(-16.7,-51.8)(-15.9,-49.5)(-14.9,-49.8)(-14,-55.8)(-13.2,-55.3)(-12.4,-50.9)(-11.8,-45.9)(-10.9,-43.4)(-10.1,-43.5)(-9.1,-46.5)(-8,-56.9)(-7,-49.7)(-6,-46)(-4.9,-47.6)(-4,-56.9)
(-2.9,-47.6)(-2.1,-39)(-1.1,-37.2)(0,-38.6)(1.06,-40.9)(1.9,-36)(2.9,-30.8)(3.9,-28.1)(6,-26.2)(6.8,-23.9)(7.6,-21.1)(8.6,-17.8)(10.1,-14.4)(11.1,-12.4)(12.1,-9.8)(13.3,-6.6)(14.6,-3.8)(15.8,-1.6)(17,-0.5)(18.4,0)(19.9,-0.5)(21.1,-2)(22.7,-5)(24.3,-9.8)(25.1,-13.2)(26,-15.1)(27.2,-16)(28.2,-16.6)(29.1,-18)(30,-20.4)(31,-25.3)(31.9,-30)
(32,-31.6)(32.9,-31.8)(33.9,-29.1)(34.9,-28.9)(36.2,-30.6)(37.2,-35)(38.1,-40.7)(39,-36.5)(40,-33.4)(41,-32.8)(42.2,-33.9)(43.3,-37.9)(44.1,-41.7)(45.1,-43.8)(46,-39.8)(46.8,-37.9)(47.8,-37.7)(48.8,-38.5)(50,-41.9)(51.3,-46.7)(52.5,-43)(53.9,-38.6)(55.3,-37.7)(56.8,-39)(58,-41.7)(59,-45.5)(60,-58)};
\addlegendentry{From on-site NF measurements, current protoype}
\addplot[no markers,red,line width=1.4pt,line join=round,dash pattern=on 4.7pt off 2.7pt] coordinates {
(-60,-55.5)(-59.2,-51.3)(-58.2,-47.4)(-57.2,-45.3)(-56.2,-44)(-54.9,-43.5)(-53.8,-44.3)(-52.6,-45.9)(-51.5,-48)(-50.5,-48)(-49.5,-46.3)(-48.8,-44.2)(-47.6,-41.7)(-46.3,-40.5)(-44.5,-41.1)(-43.2,-43.4)(-42.2,-47.2)(-41.6,-50.7)(-40.8,-58)(-40.2,-60)
(-39.8,-54.7)(-39,-48.8)(-38.3,-46.1)(-36.7,-45.2)(-35.6,-47.4)(-35,-50.9)(-34,-55.9)(-33.2,-60)(-33,-58)(-32.3,-51.8)(-31.3,-47.8)(-30.1,-48.4)(-29.1,-50.9)(-28.1,-55.9)(-27.6,-51.8)(-27,-47.6)(-25.8,-42.1)(-24.3,-40.1)(-23.1,-41.7)(-22.3,-45.5)(-21.8,-49.7)(-21.4,-51.7)
(-20.4,-48.6)(-19.6,-43.4)(-18.6,-40.5)(-17.5,-39.7)(-16.5,-42.1)(-15.7,-47.6)(-15.3,-51.9)(-14.5,-45.5)(-13.7,-39.2)(-12.7,-35.4)(-11.4,-34.1)(-10.2,-35.9)(-9.5,-41.3)(-8.5,-47.6)(-8,-43.4)(-7,-33.3)(-5.6,-29.7)(-4,-30.2)(-2.9,-34.2)(-1.5,-39.5)
(-1.2,-38.6)(-0.2,-32.3)(0.65,-29.5)(1.7,-29.3)(2.5,-30.8)(2.9,-34.6)(3.1,-37.1)(3.7,-42.3)(4.1,-38.8)(4.7,-34.6)(5.1,-30.5)(5.8,-27.2)(6.6,-25.4)(7.6,-26.5)(8,-29.2)(8.4,-32.5)(8.7,-33.8)(9.4,-29.5)(9.9,-25.5)(10.1,-21.5)(10.5,-17.9)(10.7,-16.5)(11.7,-11.6)(12.9,-7.2)(13.9,-4.4)(15.4,-1.3)(17,-0.2)(18.6,0)(20.3,-0.7)(21.9,-2.8)(23.3,-5.2)(24.3,-7.4)(25.6,-11)(26.6,-14.6)(27.4,-16.2)(28.4,-18.9)(29.9,-20.3)(31,-22.1)(32.3,-25.9)(32.9,-28.5)(33.3,-30)(33.5,-33.3)(33.9,-37.7)(34.1,-41.3)(34.7,-46.1)
(35.1,-40)(35.9,-34.2)(36.8,-30.8)(38,-30.1)(39,-31.9)(39.8,-33.8)(40.7,-39.2)(40.9,-43.4)(41.5,-48.6)(41.8,-56.8)(42.4,-48.6)(42.8,-43.4)(43.4,-38.2)(44.2,-35)(45.8,-33.4)(47,-34.1)(48.1,-36.1)(48.8,-39.2)(49.6,-43.4)(50.4,-46.5)(51,-49.8)(51.6,-45.5)(52.7,-40)(54.1,-37.9)(56.2,-37.2)(57.8,-39)(59,-41.1)(60,-43.4)};
\addlegendentry{From on-site NF measurements, previous protoype}
\node[font=\serif\bfseries\fontsize{15}{17}\selectfont] at (axis cs:-53.5,-3.5) {(d)};
\end{axis}
\end{tikzpicture}
\end{document}
